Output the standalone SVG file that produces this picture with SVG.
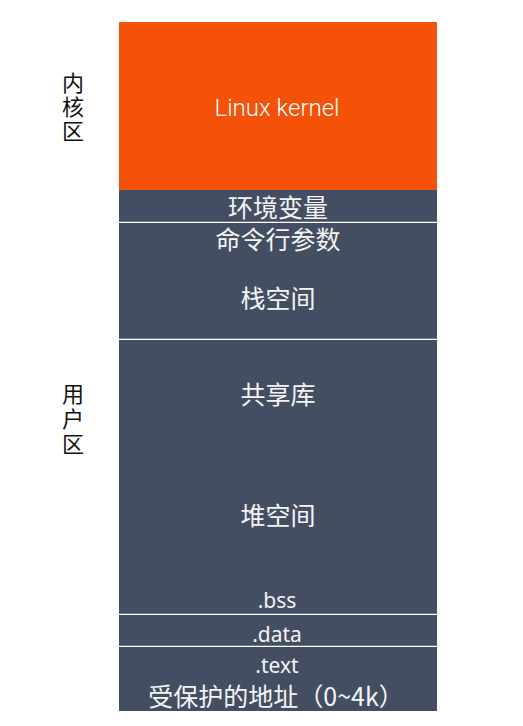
<svg xmlns="http://www.w3.org/2000/svg" width="523" height="726" viewBox="0 0 523 726">
<style>
.blk{fill:#434E63}
.sep{stroke:#FFFFFF;stroke-width:1.2}
.t{fill:#F4F4F4;font-family:"Noto Sans CJK SC","Noto Sans",sans-serif;font-size:25px;text-anchor:middle}
.lt{fill:#F4F4F4;font-family:"Noto Sans","Noto Sans CJK SC",sans-serif;font-size:21px;text-anchor:middle}
.side{fill:#111111;font-family:"Noto Sans CJK SC",sans-serif;font-size:22px;writing-mode:vertical-rl;text-orientation:upright}
</style>
<rect width="523" height="726" fill="#FFFFFF"/>
<g id="kernel">
<rect x="119" y="22" width="318" height="168" fill="#F45208"/>
<text x="277" y="116" fill="#FFFFFF" font-family="Roboto,'Noto Sans',sans-serif" font-weight="300" font-size="24" text-anchor="middle">Linux kernel</text>
</g>
<g id="env">
<rect class="blk" x="119" y="190" width="318" height="32"/>
<text class="t" x="278" y="216.5">环境变量</text>
</g>
<g id="stack">
<rect class="blk" x="119" y="222" width="318" height="117"/>
<text class="t" x="278" y="249">命令行参数</text>
<text class="t" x="278" y="307.5">栈空间</text>
</g>
<g id="heap">
<rect class="blk" x="119" y="339" width="318" height="275"/>
<text class="t" x="278" y="404">共享库</text>
<text class="t" x="278" y="524.5">堆空间</text>
<text class="lt" x="277" y="608">.bss</text>
</g>
<g id="data">
<rect class="blk" x="119" y="614" width="318" height="32"/>
<text class="lt" x="277" y="641.5">.data</text>
</g>
<g id="text">
<rect class="blk" x="119" y="646" width="318" height="65"/>
<text class="lt" x="277" y="673">.text</text>
<text class="t" x="276" y="706">受保护的地址（0~4k）</text>
</g>
<g id="connectors">
<line class="sep" x1="119" y1="222.3" x2="437" y2="222.3"/>
<line class="sep" x1="119" y1="339.3" x2="437" y2="339.3"/>
<line class="sep" x1="119" y1="614.3" x2="437" y2="614.3"/>
<line class="sep" x1="119" y1="646.3" x2="437" y2="646.3"/>
</g>
<g id="kernel-label">
<text class="side" x="73" y="72" letter-spacing="2">内核区</text>
</g>
<g id="user-label">
<text class="side" x="73" y="383" letter-spacing="3">用户区</text>
</g>
</svg>
